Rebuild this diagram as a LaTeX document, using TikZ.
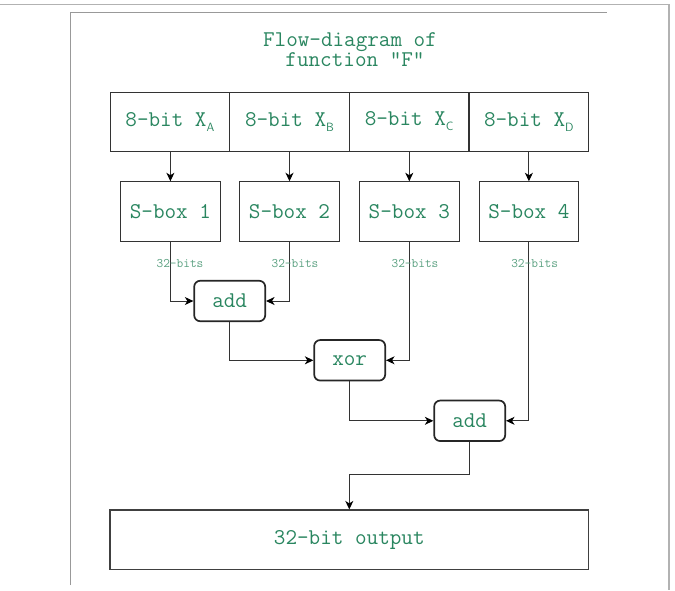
\documentclass[tikz,border=0pt]{standalone}
\usetikzlibrary{arrows.meta}
\definecolor{txtgreen}{RGB}{42,134,96}
\definecolor{lblgreen}{RGB}{90,160,128}
\newcommand\lowidx[1]{\raisebox{-5pt}{\sffamily\fontsize{12}{12}\selectfont #1}}
\begin{document}
\begin{tikzpicture}[x=1pt,y=-1pt,
  every node/.style={font=\ttfamily\fontsize{22.5}{26}\selectfont, text=txtgreen, inner sep=0pt},
  inbox/.style={draw=black!80, line width=1pt, minimum width=119.6pt, minimum height=59pt},
  sbox/.style={draw=black!80, line width=1pt, minimum width=99.5pt, minimum height=59.3pt},
  opbox/.style={draw=black!85, line width=1.7pt, rounded corners=6pt, minimum width=71pt, minimum height=40.5pt},
  outbox/.style={draw=black!75, line width=1.3pt, minimum width=478.7pt, minimum height=59.3pt},
  bitlbl/.style={font=\ttfamily\fontsize{13}{13}\selectfont, text=lblgreen},
  conn/.style={draw=black!80, line width=1pt, -{Stealth[length=8.5pt,width=8pt,inset=2.5pt,color=black]}},
  wire/.style={draw=black!80, line width=1pt}
]
\useasboundingbox (0,0) rectangle (675,590);

% page frames
\draw[black!30, line width=1.5pt] (0,4.5) -- (669,4.5) -- (669,590);
\draw[black!40, line width=1pt] (70.7,585) -- (70.7,12) -- (607.3,12);

% title
\node[anchor=base] (title1) at (350,46) {Flow-diagram of};
\node[anchor=base] (title2) at (355,66.7) {function "F"};

% 8-bit inputs
\node[inbox] (inA) at (169.9,121.5) {8-bit X\lowidx{A}};
\node[inbox] (inB) at (289.5,121.5) {8-bit X\lowidx{B}};
\node[inbox] (inC) at (409.1,121.5) {8-bit X\lowidx{C}};
\node[inbox] (inD) at (528.8,121.5) {8-bit X\lowidx{D}};

% S-boxes
\node[sbox] (sb1) at (170.4,211.4) {S-box 1};
\node[sbox] (sb2) at (289.5,211.4) {S-box 2};
\node[sbox] (sb3) at (409.3,211.4) {S-box 3};
\node[sbox] (sb4) at (528.9,211.4) {S-box 4};

% operations
\node[opbox] (add1) at (229.7,301) {add};
\node[opbox] (xor)  at (349.7,360.3) {xor};
\node[opbox] (add2) at (469.7,420.8) {add};

% output
\node[outbox] (out) at (349.3,539.7) {32-bit output};
\coordinate (elbow) at (349.3,474.3);

% inputs into S-boxes
\draw[conn] (sb1.north |- inA.south) -- (sb1.north);
\draw[conn] (sb2.north |- inB.south) -- (sb2.north);
\draw[conn] (sb3.north |- inC.south) -- (sb3.north);
\draw[conn] (sb4.north |- inD.south) -- (sb4.north);

% combining network
\draw[conn] (sb1.south) |- (add1.west);
\draw[conn] (sb2.south) |- (add1.east);
\draw[conn] (add1.south) |- (xor.west);
\draw[conn] (sb3.south) |- (xor.east);
\draw[conn] (xor.south) |- (add2.west);
\draw[conn] (sb4.south) |- (add2.east);
\draw[wire] (add2.south) |- (elbow);
\draw[conn] (elbow) -- (out.north);

% word widths
\node[bitlbl] (w1) at (180,263.5) {32-bits};
\node[bitlbl] (w2) at (295,263.5) {32-bits};
\node[bitlbl] (w3) at (415,263.5) {32-bits};
\node[bitlbl] (w4) at (534.7,263.5) {32-bits};
\end{tikzpicture}
\end{document}
